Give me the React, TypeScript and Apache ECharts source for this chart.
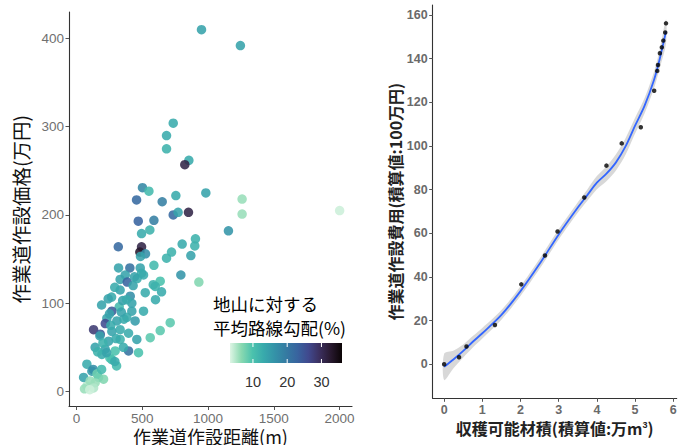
import React, { useEffect, useRef } from 'react';
import * as echarts from 'echarts';

// Left panel: road construction distance (m), price (万円) and average slope (%)
const distance = [
  950, 1246, 735, 684, 684, 854, 823, 501, 550, 983, 456, 651, 755, 1259, 1259, 2001,
  735, 772, 851, 469, 588, 557, 494, 1155, 317, 494, 481, 524, 803, 904, 899, 869,
  722, 684, 588, 486, 405, 319, 484, 494, 793, 930, 370, 509, 331, 385, 583, 636,
  646, 522, 598, 600, 331, 408, 420, 266, 190, 324, 268, 420, 509, 230, 218, 306,
  382, 445, 712, 636, 560, 458, 471, 395, 129, 180, 268, 331, 395, 243, 331, 177,
  141, 217, 293, 192, 268, 78, 116, 53, 167, 78, 141, 205, 103, 129, 60, 100,
  253, 304, 291, 228, 126, 155, 190, 356, 240, 290, 350, 430, 460, 260, 300, 360,
  200, 160, 250, 340, 380, 440,
];
const price = [
  410, 392, 304, 290, 275, 262, 257, 231, 227, 225, 217, 215, 222, 218, 201, 205,
  200, 203, 203, 193, 194, 183, 179, 182, 164, 164, 158, 156, 167, 173, 165, 154,
  158, 151, 143, 153, 140, 140, 140, 134, 132, 124, 132, 132, 127, 124, 121, 125,
  113, 112, 119, 104, 115, 108, 100, 107, 98, 96, 91, 91, 91, 83, 77, 80,
  84, 80, 78, 69, 61, 59, 44, 46, 70, 65, 68, 70, 66, 57, 59, 63,
  50, 48, 46, 42, 36, 31, 23, 16, 16, 6, 10, 14, 12, 4, 3, 2,
  38, 29, 34, 44, 25, 20, 25, 50, 105, 118, 103, 120, 128, 75, 60, 82,
  55, 45, 88, 90, 104, 130,
];
const slope = [
  14, 14, 13, 13, 12, 13, 31, 18, 11, 14, 22, 19, 13, 6, 6, 4,
  22, 14, 31, 23, 19, 12, 13, 16, 22, 31, 33, 17, 13, 12, 12, 14,
  12, 12, 11, 14, 21, 14, 14, 13, 16, 7, 14, 13, 14, 23, 12, 10,
  13, 13, 12, 13, 14, 17, 14, 13, 14, 11, 24, 14, 13, 14, 26, 14,
  13, 15, 9, 9, 9, 14, 10, 21, 28, 24, 14, 13, 13, 14, 12, 14,
  14, 14, 10, 13, 12, 13, 15, 14, 9, 5, 6, 7, 6, 5, 6, 4,
  10, 11, 13, 14, 17, 8, 11, 13, 14, 13, 14, 14, 13, 13, 13, 13,
  12, 12, 14, 14, 13, 14,
];

// Right panel: cumulative harvestable volume (万m3) vs cumulative cost (100万円)
const harvest = [0, 0.39, 0.585, 1.33, 2.02, 2.64, 2.97, 3.67, 4.25, 4.65, 5.15, 5.5, 5.58, 5.6, 5.65, 5.7, 5.74, 5.79, 5.81];
const cost = [0, 3.2, 8.1, 18.0, 36.6, 49.8, 60.8, 76.4, 91.0, 101.2, 108.6, 125.3, 134.4, 137.1, 142.5, 145.2, 148.3, 152.0, 156.2];

// Smoothed fit and its confidence half-width
const fitX = [0, 0.25, 0.5, 0.75, 1, 1.5, 2, 2.5, 3, 3.5, 3.75, 4, 4.25, 4.5, 4.75, 5, 5.25, 5.5, 5.65, 5.81];
const fitY = [-1.2, 2.3, 6.1, 10.3, 14.2, 22.6, 33.5, 46, 59.5, 71.8, 77.5, 83.2, 87.3, 92.5, 99.8, 109.3, 118.5, 130.5, 140.2, 152.5];
const fitHalf = [6, 4, 3, 2.6, 2.4, 2.2, 2.2, 2.3, 2.3, 2.4, 2.6, 3.0, 3.4, 3.7, 3.8, 3.6, 3.5, 3.8, 4.3, 5.5];

const xTicksL = [0, 500, 1000, 1500, 2000];
const yTicksL = [0, 100, 200, 300, 400];
const xTicksR = [0, 1, 2, 3, 4, 5, 6];
const yTicksR = [0, 20, 40, 60, 80, 100, 120, 140, 160];
const legendTicks = [10, 20, 30];
const legendMin = 3.3;
const legendMax = 36;

// mako palette, light to dark
const makoRev = ['#DEF5E5', '#8AD9B1', '#4BC2AD', '#38AAAC', '#3492A8', '#357BA2', '#38649F', '#40498E', '#3B2F5E', '#28192F', '#0B0405'];

const FONT = "'Liberation Sans', 'Noto Sans CJK JP', sans-serif";
const CJK = "'Noto Sans CJK JP', 'Liberation Sans', sans-serif";

function valueAxis(
  gridIndex: number,
  min: number,
  max: number,
  ticks: number[],
  name: string,
  nameGap: number,
  labelStyle: any,
  nameStyle: any,
) {
  return {
    type: 'value',
    gridIndex,
    min,
    max,
    name,
    nameLocation: 'middle',
    nameGap,
    nameMoveOverlap: false,
    nameTextStyle: nameStyle,
    splitLine: { show: false },
    axisLine: { show: true, onZero: false, lineStyle: { color: '#333', width: 1.1 } },
    axisTick: { show: true, length: 3.5, customValues: ticks, lineStyle: { color: '#555', width: 1 } },
    axisLabel: { customValues: ticks, formatter: (v: number) => String(v), ...labelStyle },
  };
}

export default function App() {
  const ref = useRef<HTMLDivElement>(null);

  useEffect(() => {
    if (!ref.current) return;
    const chart = echarts.init(ref.current, null, { renderer: 'svg' });

    const scatterData = distance.map((d, i) => [d, price[i], slope[i]]);
    const costData = harvest.map((h, i) => [h, cost[i]]);
    const fitData = fitX.map((x, i) => [x, fitY[i]]);
    const bandData = fitX.map((x, i) => [x, fitY[i] - fitHalf[i], fitY[i] + fitHalf[i]]);

    const leftLabel = { color: '#707070', fontSize: 13.5, fontFamily: FONT, margin: 5 };
    const leftName = { color: '#111', fontSize: 19.5, fontFamily: CJK };
    const rightLabel = { color: '#6a6a6a', fontSize: 12.5, fontFamily: FONT, fontWeight: 'bold', margin: 5 };
    const rightName = {
      color: '#222',
      fontSize: 16,
      fontFamily: CJK,
      fontWeight: 'bold',
      rich: { sup: { fontSize: 9, fontFamily: FONT, fontWeight: 'bold', color: '#222', verticalAlign: 'top', padding: [0, 0, 6, 0] } },
    };

    // colour bar geometry
    const barX = 230;
    const barY = 343;
    const barW = 112;
    const barH = 20;
    const toBar = (v: number) => barX + ((v - legendMin) / (legendMax - legendMin)) * barW;

    const graphics: any[] = [
      {
        type: 'text',
        x: 213,
        y: 303,
        style: { text: '地山に対する', fontSize: 17.5, lineHeight: 18, fontFamily: CJK, fill: '#000', verticalAlign: 'middle' },
      },
      {
        type: 'text',
        x: 213,
        y: 327,
        style: { text: '平均路線勾配(%)', fontSize: 17.5, lineHeight: 18, fontFamily: CJK, fill: '#000', verticalAlign: 'middle' },
      },
      {
        type: 'rect',
        shape: { x: barX, y: barY, width: barW, height: barH },
        style: {
          fill: new echarts.graphic.LinearGradient(
            0, 0, 1, 0,
            makoRev.map((c, i) => ({ offset: i / (makoRev.length - 1), color: c })),
          ),
        },
      },
    ];
    legendTicks.forEach((t) => {
      const x = toBar(t);
      graphics.push(
        { type: 'line', shape: { x1: x, y1: barY, x2: x, y2: barY + 4 }, style: { stroke: '#fff', lineWidth: 1 } },
        { type: 'line', shape: { x1: x, y1: barY + barH - 4, x2: x, y2: barY + barH }, style: { stroke: '#fff', lineWidth: 1 } },
        {
          type: 'text',
          x,
          y: 382,
          style: { text: String(t), fontSize: 14.5, fontFamily: FONT, fill: '#333', align: 'center', verticalAlign: 'middle' },
        },
      );
    });

    chart.setOption({
      animation: false,
      backgroundColor: '#fff',
      grid: [
        { left: 69, right: 333, top: 12, bottom: 38.5, outerBoundsMode: 'none' },
        { left: 432.7, right: 8.3, top: 5, bottom: 46.7, outerBoundsMode: 'none' },
      ],
      xAxis: [
        valueAxis(0, -58, 2095, xTicksL, '作業道作設距離(m)', 20, leftLabel, { ...leftName, fontSize: 18, lineHeight: 18 }),
        valueAxis(1, -0.3, 6.09, xTicksR, '収穫可能材積(積算値:万m{sup|3})', 22, rightLabel, rightName),
      ],
      yAxis: [
        valueAxis(0, -17, 430, yTicksL, '作業道作設価格(万円)', 39, leftLabel, leftName),
        valueAxis(1, -15.6, 164.6, yTicksR, '作業道作設費用(積算値:100万円)', 30, rightLabel, rightName),
      ],
      visualMap: {
        type: 'continuous',
        show: false,
        min: legendMin,
        max: legendMax,
        dimension: 2,
        seriesIndex: 0,
        inRange: { color: makoRev },
      },
      graphic: graphics,
      series: [
        {
          type: 'scatter',
          xAxisIndex: 0,
          yAxisIndex: 0,
          data: scatterData,
          symbolSize: 9.5,
          itemStyle: { opacity: 0.88 },
          z: 2,
        },
        {
          type: 'custom',
          xAxisIndex: 1,
          yAxisIndex: 1,
          data: bandData,
          z: 1,
          renderItem: (params: any, api: any) => {
            if (params.dataIndex !== 0) return null;
            const upper = bandData.map((d) => api.coord([d[0], d[2]]));
            const lower = bandData.map((d) => api.coord([d[0], d[1]])).reverse();
            return {
              type: 'polygon',
              shape: { points: upper.concat(lower), smooth: 0.3 },
              style: { fill: 'rgba(153,153,153,0.38)', stroke: 'none' },
            };
          },
          silent: true,
        },
        {
          type: 'line',
          xAxisIndex: 1,
          yAxisIndex: 1,
          data: fitData,
          smooth: 0.3,
          showSymbol: false,
          lineStyle: { color: '#3366FF', width: 1.8 },
          z: 2,
        },
        {
          type: 'scatter',
          xAxisIndex: 1,
          yAxisIndex: 1,
          data: costData,
          symbolSize: 4.5,
          itemStyle: { color: '#000' },
          z: 3,
        },
      ],
    });

    return () => chart.dispose();
  }, []);

  return <div ref={ref} style={{ width: 685, height: 445, position: 'absolute', left: 0, top: 0 }} />;
}
